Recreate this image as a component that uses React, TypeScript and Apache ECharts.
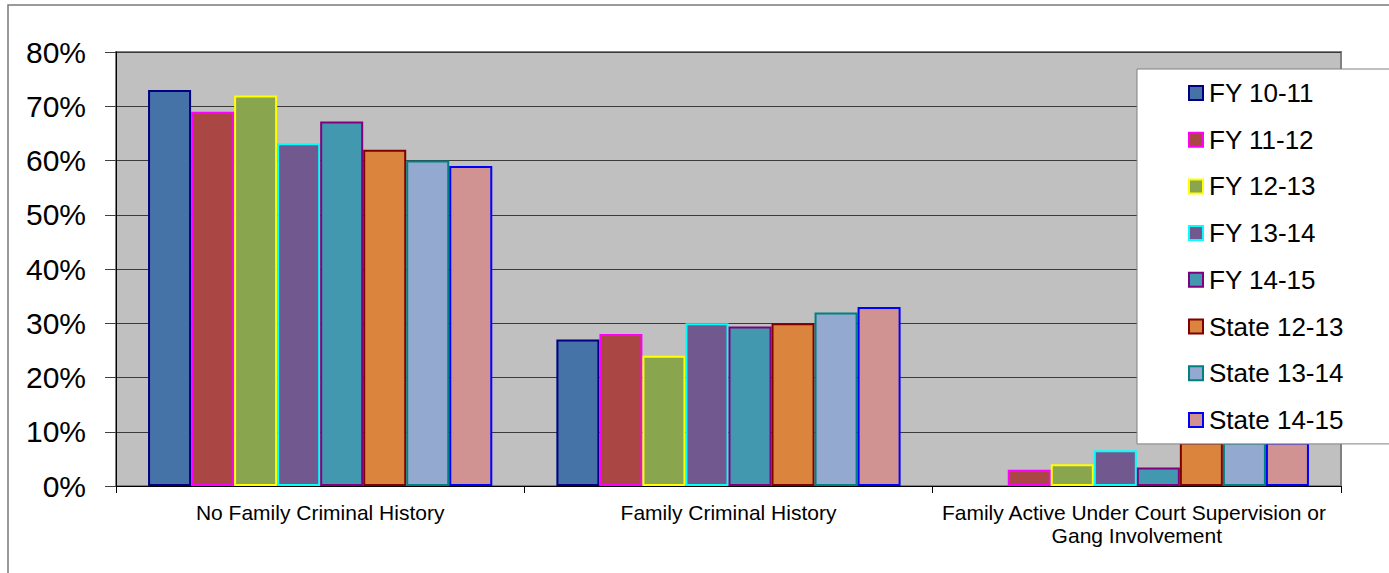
import React, { useEffect, useRef } from "react";
import * as echarts from "echarts";

const categories = [
  "No Family Criminal History",
  "Family Criminal History",
  "Family Active Under Court Supervision or Gang Involvement",
];

const seriesNames = [
  "FY 10-11",
  "FY 11-12",
  "FY 12-13",
  "FY 13-14",
  "FY 14-15",
  "State 12-13",
  "State 13-14",
  "State 14-15",
];

// Percent of youth in each category, one array per period
const fy1011 = [73, 27, 0];
const fy1112 = [69, 28, 3];
const fy1213 = [72, 24, 4];
const fy1314 = [63.2, 30, 6.6];
const fy1415 = [67.2, 29.4, 3.4];
const state1213 = [62, 30, 8];
const state1314 = [60, 32, 8];
const state1415 = [59, 33, 8];

const seriesValues = [fy1011, fy1112, fy1213, fy1314, fy1415, state1213, state1314, state1415];

const fillColors = ["#4572A7", "#AA4643", "#89A54E", "#71588F", "#4198AF", "#DB843D", "#93A9CF", "#D19392"];
const borderColors = ["#000080", "#FF00FF", "#FFFF00", "#00FFFF", "#800080", "#800000", "#008080", "#0000FF"];

const yTicks = { min: 0, max: 80, interval: 10 };

const FONT = "'Liberation Sans', Arial, sans-serif";

export default function App() {
  const ref = useRef<HTMLDivElement>(null);

  useEffect(() => {
    if (!ref.current) return;
    const chart = echarts.init(ref.current, undefined, { renderer: "svg" });

    const series = seriesNames.map((name, i) => ({
      name,
      type: "bar" as const,
      barGap: "0%",
      barCategoryGap: "15.7%",
      itemStyle: { color: fillColors[i], borderColor: borderColors[i], borderWidth: 2 },
      data: seriesValues[i].map((v) =>
        v === 0 ? { value: v, itemStyle: { borderWidth: 0 } } : v
      ),
    }));

    chart.setOption({
      animation: false,
      backgroundColor: "#ffffff",
      textStyle: { fontFamily: FONT },
      graphic: [
        {
          type: "rect",
          shape: { x: 8, y: 5, width: 1420, height: 620 },
          style: { fill: "none", stroke: "#7a7a7a", lineWidth: 1.5 },
          silent: true,
          z: -1,
        },
      ],
      grid: {
        left: 116,
        top: 52,
        right: 48,
        bottom: 87,
        show: true,
        backgroundColor: "#C0C0C0",
        borderColor: "#808080",
        borderWidth: 2,
      },
      legend: {
        orient: "vertical",
        left: 1137,
        top: 69,
        backgroundColor: "#ffffff",
        borderColor: "#808080",
        borderWidth: 1,
        padding: [11, 70, 11, 51],
        itemWidth: 14,
        itemHeight: 14,
        itemGap: 20.7,
        icon: "rect",
        textStyle: { fontSize: 26, color: "#000", fontFamily: FONT, lineHeight: 25, padding: [0, 0, 0, 1] },
        data: seriesNames,
      },
      xAxis: {
        type: "category",
        data: categories,
        axisLine: { show: true, lineStyle: { color: "#000", width: 1 } },
        axisTick: { show: true, length: 7, lineStyle: { color: "#000" } },
        axisLabel: {
          fontSize: 21,
          color: "#000",
          fontFamily: FONT,
          margin: 15,
          width: 400,
          overflow: "break",
          lineHeight: 23,
          interval: 0,
        },
      },
      yAxis: {
        type: "value",
        min: yTicks.min,
        max: yTicks.max,
        interval: yTicks.interval,
        axisLine: { show: true, lineStyle: { color: "#000", width: 1 } },
        axisTick: { show: true, inside: false, length: 11, lineStyle: { color: "#404040" } },
        axisLabel: { fontSize: 30, color: "#000", fontFamily: FONT, margin: 30, formatter: "{value}%" },
        splitLine: { show: true, lineStyle: { color: "#3a3a3a", width: 1 } },
      },
      series,
    });

    return () => chart.dispose();
  }, []);

  return (
    <div
      ref={ref}
      style={{ position: "absolute", left: 0, top: 0, width: 1389, height: 573, background: "#fff" }}
    />
  );
}
